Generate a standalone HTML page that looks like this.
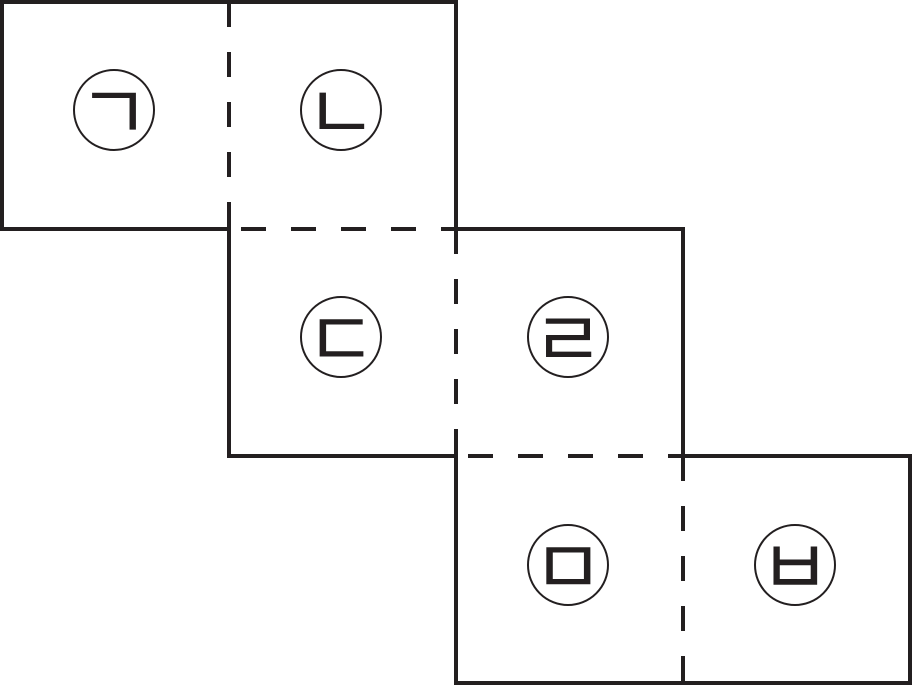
<!DOCTYPE html>
<html><head><meta charset="utf-8"><style>html,body{margin:0;padding:0;background:#fff}</style></head>
<body>
<svg width="913" height="686" viewBox="0 0 913 686" xmlns="http://www.w3.org/2000/svg">
<g stroke="#231f20" stroke-width="4" fill="none">
<path d="M456 229 V2 H2 V229 H229 V456 H456 V683 H910 V456 H683 V229 H456"/>
<g stroke-dasharray="25 25">
<line x1="229" y1="2" x2="229" y2="229"/>
<line x1="229" y1="229" x2="456" y2="229" stroke-dashoffset="-12"/>
<line x1="456" y1="229" x2="456" y2="456"/>
<line x1="456" y1="456" x2="683" y2="456" stroke-dashoffset="-12"/>
<line x1="683" y1="456" x2="683" y2="683"/>
</g>
<g stroke-width="2">
<circle cx="114" cy="110" r="40"/><circle cx="341" cy="110" r="40"/>
<circle cx="341" cy="337" r="40"/><circle cx="568" cy="337" r="40"/>
<circle cx="568" cy="565" r="40"/><circle cx="795" cy="565" r="40"/>
</g>
</g>
<g font-family="'Noto Sans CJK KR','NanumGothic',sans-serif" font-size="78" fill="#231f20" text-anchor="middle">
<text x="114" y="140">ㄱ</text><text x="341" y="140">ㄴ</text>
<text x="341" y="367">ㄷ</text><text x="568" y="367">ㄹ</text>
<text x="568" y="595">ㅁ</text><text x="795" y="595">ㅂ</text>
</g>
</svg>
</body></html>
